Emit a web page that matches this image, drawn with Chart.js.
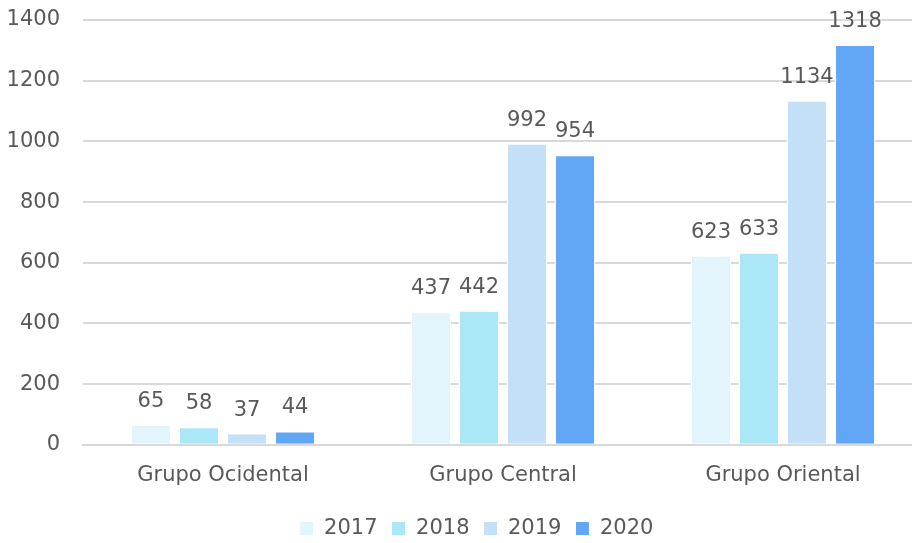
<!DOCTYPE html>
<html lang="pt">
<head>
  <meta charset="UTF-8">
  <title>Grupos</title>
  <style>
    * { margin: 0; padding: 0; box-sizing: border-box; }
    body { background: #ffffff; overflow: hidden; }
    .chart-box { width: 923px; height: 543px; }
  </style>
</head>
<body>
  <div class="chart-box">
    <canvas id="grupoChart"></canvas>
  </div>

  <script src="https://cdn.jsdelivr.net/npm/chart.js"></script>
  <script>
    const categories = ['Grupo Ocidental', 'Grupo Central', 'Grupo Oriental'];
    const years = ['2017', '2018', '2019', '2020'];
    const values2017 = [65, 437, 623];
    const values2018 = [58, 442, 633];
    const values2019 = [37, 992, 1134];
    const values2020 = [44, 954, 1318];
    const yTicks = [0, 200, 400, 600, 800, 1000, 1200, 1400];

    const colors = ['#e2f5fc', '#abe7f7', '#c4e0f6', '#62a7f6'];
    const textColor = '#595959';
    const font = "'DejaVu Sans', sans-serif";

    // little plugin that writes the value over each bar
    const valueLabels = {
      id: 'valueLabels',
      afterDatasetsDraw(chart) {
        const ctx = chart.ctx;
        ctx.save();
        ctx.fillStyle = textColor;
        ctx.font = '21px ' + font;
        ctx.textAlign = 'center';
        ctx.textBaseline = 'bottom';
        chart.data.datasets.forEach((ds, i) => {
          chart.getDatasetMeta(i).data.forEach((bar, j) => {
            ctx.fillText(ds.data[j], bar.x, bar.y - 13);
          });
        });
        ctx.restore();
      }
    };

    // the legend sits a bit right of centre and lower in the original
    const legendShift = {
      id: 'legendShift',
      afterLayout(chart) {
        const lg = chart.legend;
        lg.left += 15;
        lg.right += 15;
        lg.top += 6;
        lg.bottom += 6;
      }
    };

    const seriesList = [values2017, values2018, values2019, values2020];

    new Chart(document.getElementById('grupoChart'), {
      type: 'bar',
      data: {
        labels: categories,
        datasets: years.map((y, i) => ({
          label: y,
          data: seriesList[i],
          backgroundColor: colors[i],
          borderColor: '#ffffff',
          borderWidth: 1,
          categoryPercentage: 0.686,
          barPercentage: 0.833
        }))
      },
      options: {
        responsive: true,
        maintainAspectRatio: false,
        animation: false,
        layout: { padding: { top: 20, right: 0, left: 0, bottom: 0 } },
        scales: {
          x: {
            grid: { display: false },
            border: { color: '#d9d9d9', width: 2 },
            ticks: { color: textColor, font: { family: font, size: 21 }, padding: 10 }
          },
          y: {
            min: 0,
            max: 1400,
            afterBuildTicks(axis) { axis.ticks = yTicks.map(v => ({ value: v })); },
            afterFit(axis) {
              axis.width = 83;
              axis.paddingTop = 0;
              axis.paddingBottom = 0;
            },
            grid: { color: '#d9d9d9', lineWidth: 2, drawTicks: false },
            border: { display: false },
            ticks: {
              color: textColor,
              font: { family: font, size: 21 },
              padding: 23,
              callback: v => String(v)
            }
          }
        },
        plugins: {
          legend: {
            position: 'bottom',
            labels: {
              color: textColor,
              font: { family: font, size: 21 },
              boxWidth: 14,
              boxHeight: 14,
              padding: 14
            }
          },
          tooltip: { enabled: false }
        }
      },
      plugins: [valueLabels, legendShift]
    });
  </script>
</body>
</html>
